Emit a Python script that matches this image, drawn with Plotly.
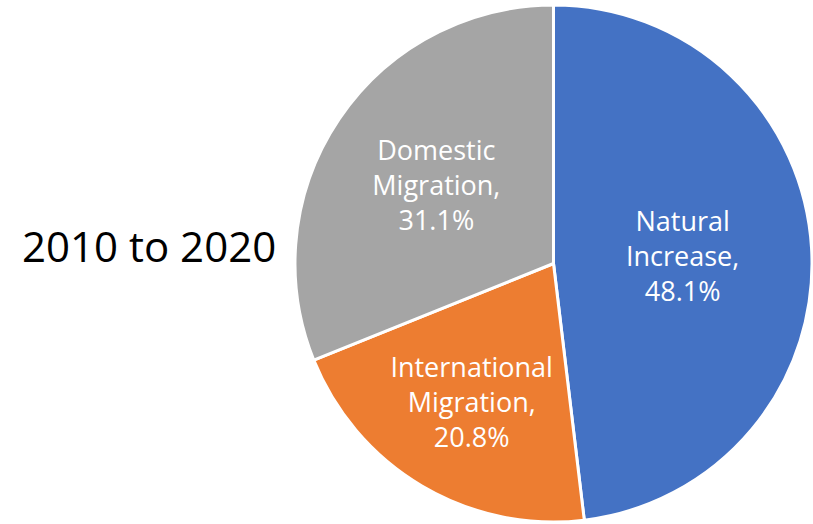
import plotly.graph_objects as go

categories = ["Natural<br>Increase", "International<br>Migration", "Domestic<br>Migration"]
values = [48.1, 20.8, 31.1]
colors = ["#4472C4", "#ED7D31", "#A5A5A5"]
period_label = "2010 to 2020"

W, H = 813, 524
FONT = "Open Sans, Noto Sans, sans-serif"

fig = go.Figure(go.Pie(
    labels=categories,
    values=values,
    sort=False,
    direction="clockwise",
    rotation=0,
    marker=dict(colors=colors, line=dict(color="white", width=3)),
    texttemplate="%{label},<br>%{value:.1f}%",
    textposition="inside",
    insidetextorientation="horizontal",
    textfont=dict(family=FONT, size=27, color="white"),
    showlegend=False,
    hoverinfo="label+percent",
    domain=dict(x=[294 / W, 1.0], y=[(H - 522) / H, (H - 5) / H]),
))

fig.add_annotation(
    text=period_label, x=149 / W, y=(H - 246) / H, xref="paper", yref="paper",
    showarrow=False, font=dict(family="Open Sans, sans-serif", size=42, color="black"),
    xanchor="center", yanchor="middle",
)

fig.update_layout(
    width=W, height=H,
    margin=dict(l=0, r=0, t=0, b=0),
    paper_bgcolor="white",
    plot_bgcolor="white",
)

fig.write_html("out.html", config={"displayModeBar": False},
               post_script="document.body.style.margin='0';")
